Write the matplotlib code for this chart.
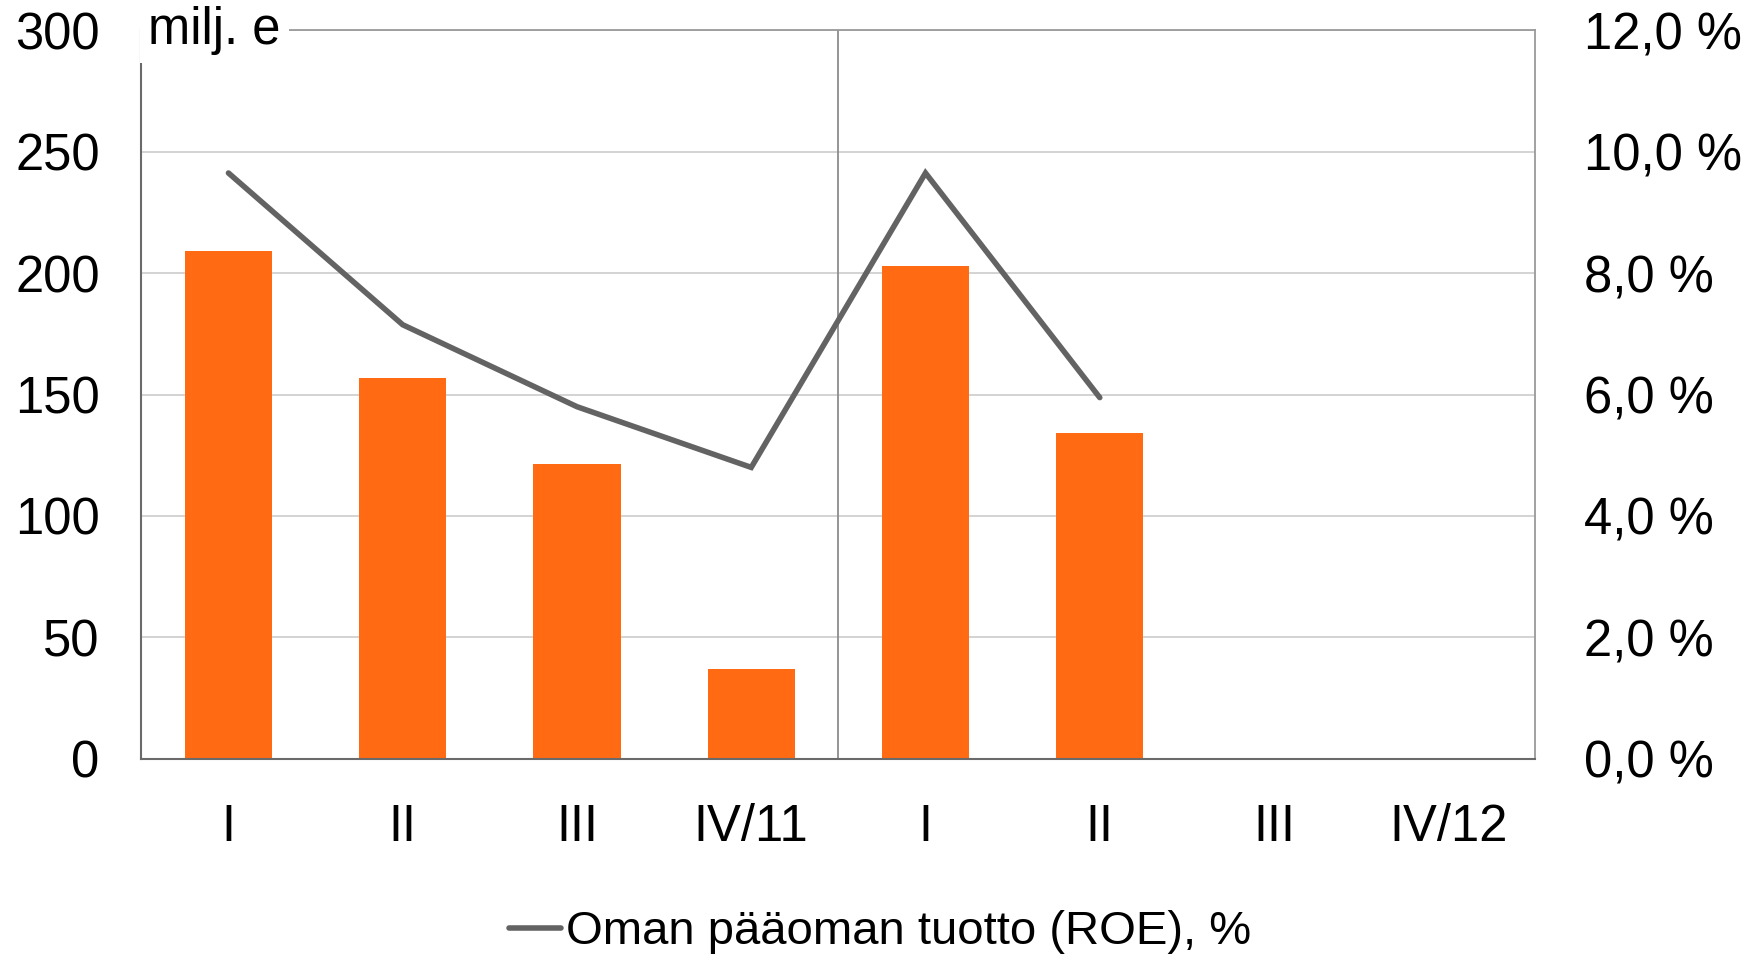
import numpy as np
import matplotlib
matplotlib.use('Agg')
import matplotlib.pyplot as plt
from matplotlib.ticker import FuncFormatter

plt.rcParams['font.family'] = ['Liberation Sans', 'DejaVu Sans']

# Data
quarters = ['I', 'II', 'III', 'IV/11', 'I', 'II', 'III', 'IV/12']
profit = [209, 157, 121.5, 37, 203, 134]          # milj. e
roe = [9.65, 7.15, 5.8, 4.8, 9.65, 5.95]           # %
quarters_per_year = 4
roe_label = 'Oman pääoman tuotto (ROE), %'

bar_color = '#FF6A13'
line_color = '#636363'
grid_color = '#D0D0D0'
fs = 36.5

fig, ax = plt.subplots(figsize=(17.6, 9.6), dpi=100)
fig.subplots_adjust(left=0.0803, right=0.8724, top=0.9684, bottom=0.2096)

x = np.arange(len(quarters))
ax.bar(x[:len(profit)], profit, width=0.5, color=bar_color, zorder=2)
ax.set_xlim(-0.5, len(quarters) - 0.5)
ax.set_ylim(0, 300)
ax.set_yticks(range(0, 301, 50))
ax.set_xticks(x)
ax.set_xticklabels(quarters)
ax.yaxis.grid(True, color=grid_color, lw=1.3, zorder=0)
ax.set_axisbelow(True)
ax.tick_params(axis='y', length=0, pad=30, labelsize=fs)
ax.tick_params(axis='x', length=0, pad=32, labelsize=fs)

# year divider
ax.axvline(quarters_per_year - 0.5, color='#8C8C8C', lw=1.3, zorder=1)

for s in ['top', 'right']:
    ax.spines[s].set_color('#9A9A9A')
    ax.spines[s].set_linewidth(1.3)
for s in ['left', 'bottom']:
    ax.spines[s].set_color('#6A6A6A')
    ax.spines[s].set_linewidth(1.5)

ax2 = ax.twinx()
ax2.plot(x[:len(roe)], roe, color=line_color, lw=4, solid_capstyle='round',
         solid_joinstyle='miter', label=roe_label)
ax2.set_ylim(0, 12)
ax2.set_yticks(range(0, 13, 2))
ax2.yaxis.set_major_formatter(FuncFormatter(lambda v, p: f'{v:.1f} %'.replace('.', ',')))
ax2.tick_params(axis='y', length=0, pad=35, labelsize=fs)
for s in ax2.spines.values():
    s.set_visible(False)

# unit label covering the top-left corner of the frame
ax2.text(0.005, 1.0, 'milj. e', transform=ax2.transAxes, fontsize=fs,
         ha='left', va='center', zorder=10, clip_on=False,
         bbox=dict(facecolor='white', edgecolor='none', pad=6))

ax2.legend(loc='center', bbox_to_anchor=(0.5, 0.029), bbox_transform=fig.transFigure,
           frameon=False, fontsize=34, handlelength=1.1, handletextpad=0.1)

plt.savefig('out.png', dpi=100)
